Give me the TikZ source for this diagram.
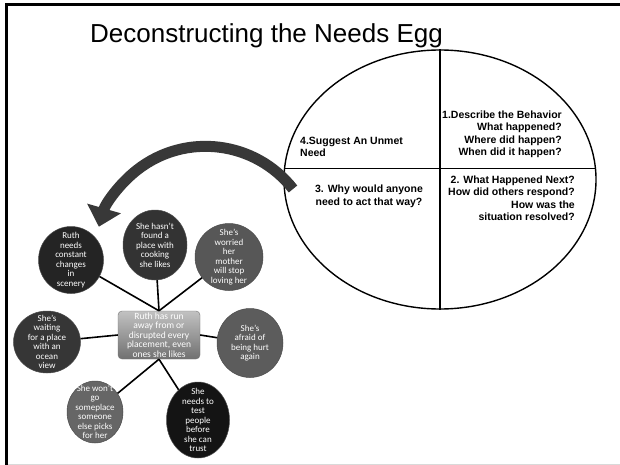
\documentclass[tikz,border=0pt]{standalone}
\usepackage{fontspec}
\setmainfont{Liberation Sans}
\newfontfamily\bubblefont{Carlito}
\usetikzlibrary{positioning,arrows.meta,calc,shapes.geometric}

\begin{document}
\begin{tikzpicture}[
    x=1pt, y=-1pt,
    egg/.style={draw, ellipse, line width=1.4pt, minimum width=312pt, minimum height=259pt, inner sep=0pt},
    eggtext/.style={font=\fontsize{10.5}{12.4}\selectfont\bfseries, inner sep=0pt},
    bubble/.style={ellipse, draw=black!70, line width=0.5pt, inner sep=-12pt, align=center, text=white, font=\bubblefont\fontsize{9}{9.5}\selectfont},
    hub/.style={draw=black!55, rounded corners=4pt, top color=black!24, bottom color=black!56, text=white, align=center, minimum width=82pt, minimum height=48pt, inner sep=0.5pt, font=\bubblefont\fontsize{9.5}{9.5}\selectfont},
    link/.style={line width=1.6pt},
    bigarrow/.style={line width=11pt, draw=black!78, -{Triangle[width=34pt,length=19pt]}}
]
\useasboundingbox (0,0) rectangle (620,465);
\draw[line width=2.7pt] (620,4.3) -- (6.3,4.3) -- (6.3,465);
\draw[black!15, line width=1pt] (8,464) -- (620,464);

\node[font=\fontsize{26}{30}\selectfont, anchor=base] (title) at (266.5,43) {Deconstructing the Needs Egg};

% the egg
\node[egg] (egg) at (440,179.5) {};
\draw[line width=1.4pt] (egg.north) -- (egg.south);
\draw[line width=1.4pt] (egg.176) -- (egg.4);
\node[eggtext, align=right, anchor=north east] (describe) at (562,110.5) {1.Describe the Behavior\\What happened?\\Where did happen?\\When did it happen?};
\node[eggtext, align=left, anchor=north west] (suggest) at (300,136.5) {4.Suggest An Unmet\\Need};
\node[eggtext, align=right, anchor=north east] (next) at (575,175.5) {2. What Happened Next?\\How did others respond?\\How was the\\situation resolved?};
\node[eggtext, align=center, anchor=north] (why) at (369,185) {3. Why would anyone\\need to act that way?};

% needs web
\node[hub] (runaway) at (159,335) {Ruth has run\\away from or\\disrupted every\\placement, even\\ones she likes};
\node[bubble, fill=black!86, minimum width=65pt, minimum height=67pt] (ruth) at (71,260) {Ruth\\needs\\constant\\changes\\in\\scenery};
\node[bubble, fill=black!80, minimum width=64pt, minimum height=70pt] (cooking) at (155,245) {She hasn’t\\found a\\place with\\cooking\\she likes};
\node[bubble, fill=black!66, minimum width=68pt, minimum height=67pt] (mother) at (229,257) {She’s\\worried\\her\\mother\\will stop\\loving her};
\node[bubble, fill=black!79, minimum width=67pt, minimum height=62pt] (ocean) at (47,342) {She’s\\waiting\\for a place\\with an\\ocean\\view};
\node[bubble, fill=black!64, minimum width=66pt, minimum height=69pt] (hurt) at (250,343) {She’s\\afraid of\\being hurt\\again};
\node[bubble, fill=black!60, minimum width=56pt, minimum height=62pt] (picks) at (95,412) {She won’t\\go\\someplace\\someone\\else picks\\for her};
\node[bubble, fill=black!92, minimum width=63pt, minimum height=76pt] (trust) at (198,420) {She\\needs to\\test\\people\\before\\she can\\trust};

\draw[link] (runaway.north) -- (ruth);
\draw[link] (runaway.north) -- (cooking);
\draw[link] (runaway.north) -- (mother);
\draw[link] (runaway.west) -- (ocean);
\draw[link] (runaway.east) -- (hurt);
\draw[link] (runaway.south) -- (picks);
\draw[link] (runaway.south) -- (trust);

% back to the web
\coordinate (arrowtail) at (293,189);
\draw[bigarrow] (arrowtail) arc[start angle=38, end angle=164, radius=111pt];
\end{tikzpicture}
\end{document}
